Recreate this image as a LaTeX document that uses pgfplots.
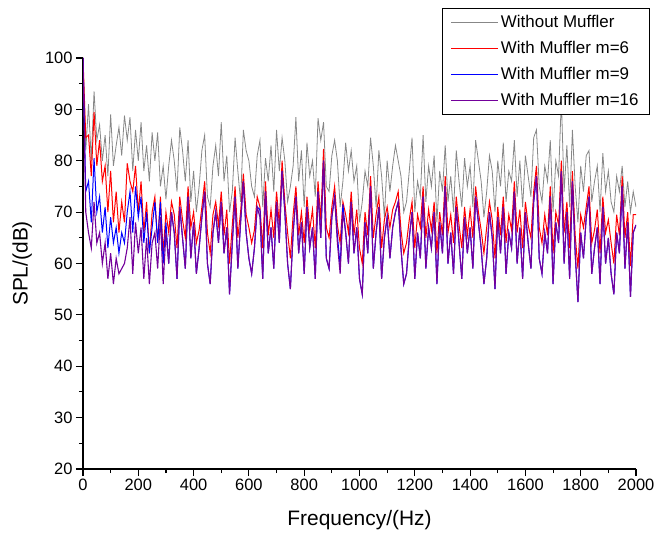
\documentclass[border=0pt]{standalone}
\usepackage{pgfplots}
\pgfplotsset{compat=1.18}
\usepackage{pgfplotstable}
\usepackage{fontspec}
\setmainfont{Liberation Sans}
\definecolor{mgray}{RGB}{135,135,135}
\definecolor{mred}{RGB}{255,0,0}
\definecolor{mblue}{RGB}{0,0,255}
\definecolor{mpurple}{RGB}{115,0,155}
\pgfplotstableread{
f g r b p
0 100 100 100 100
10 82 84.5 74 70
20 91 85 76 66
30 80 77 68 63
40 93.5 89.5 80.5 72
50 84 79 70 64
60 87 84 73 66
70 80 76 66 60
80 85 79 71 64
90 77 70 63 57
100 89 78 69 62
110 79 68 64 56
120 83 74 67 61
130 86.5 66 62 58
140 81 72 66 59
150 88.8 68 64 60
160 84 79.5 70 63
170 88.5 76 74 69
180 78 74 66 58
190 86 79 75 68
200 80 70 69 62
210 87.5 76 73 67
220 78 66 64 57
230 83 72 70 65
240 76 62 62 56
250 85.5 70 67 64
260 80 73 72 66
270 85.5 64 64 59
280 75 73 72 69
290 79 62 60 56
300 72.5 70 68 66
310 79 66 60 60
320 84 72 70 70
330 80 69.5 66 66
340 74 63 57 57
350 86.5 73 71 71
360 82 68.5 65 65
370 76 65 59 59
380 84 75 73 73
390 72 67 61 61
400 78 70 68 68
410 70 64 58 58
420 75 66.5 63 63
430 82 71 69 69
440 85 76 74 74
450 73 66 60 60
460 71 62 56 56
470 79 69.5 66 66
480 83 72 70 70
490 77 67.5 64 64
500 87.5 74 72 72
510 76 65.5 62 62
520 81 70.5 67 67
530 70 60 54 54
540 74 67.5 64 64
550 84.5 75 73 73
560 78 65 59 59
570 72 70 68 68
580 86 77.5 76 76
590 82 69.5 66 66
600 80 67 61 61
610 75 64 58 58
620 73 66.5 63 63
630 81 73 71 71
640 84 71 70.5 69
650 71 63 57 57
660 80.5 76 74 74
670 76 65.5 62 62
680 83 70.5 67 67
690 74 65 59 59
700 86 74 72 72
710 78 67.5 64 64
720 84.5 80 78 78
730 80 72 70 70
740 72 66 60 60
750 75 61 55 55
760 79 69.5 66 66
770 88.5 75 73 73
780 76 65.5 62 62
790 82 70 68 68
800 71 64 58 58
810 83.5 73 71 71
820 77 66.5 63 63
830 80 70.5 67 67
840 73 63 57 57
850 88.3 76 74 74
860 84 68.5 65 65
870 87.5 82.3 80 80
880 75 67 61 61
890 74 65 59 59
900 81 71 69 69
910 84 75 73 73
920 80 67.5 65.5 64
930 71 64 59.5 58
940 76 72 71.5 70
950 83.5 69.5 66 66
960 78 66 60 60
970 82 74 72 72
980 76 65.5 62 62
990 79 70.5 67 67
1000 68 63 57 57
1010 72 60 54 54
1020 78 70 68 68
1030 75 65.5 62 62
1040 84.5 77 75 75
1050 79 65 59 59
1060 71 69.5 66 66
1070 82 73 71 71
1080 77 63 57 57
1090 69 68.5 65 65
1100 80 71 69 69
1110 74 67 61 61
1120 79 70.5 67 67
1130 83 72 70 70
1140 80 74 72 72
1150 77 66.5 63 63
1160 70 62 56 56
1170 72 64 58 58
1180 78 68.5 65 65
1190 84.5 72 70 70
1200 70 63 57 57
1210 76 69.5 66 66
1220 73 67 61 61
1230 85 75 73 73
1240 72 65 59 59
1250 79 70.5 67 67
1260 75 66.5 63 63
1270 81 72 70 70
1280 68 62 56 56
1290 78 70 68 68
1300 74 65.5 62 62
1310 83 77 75 75
1320 72 66 60 60
1330 77 69.5 66 66
1340 70 64 58 58
1350 82 73 71 71
1360 76 67.5 64 64
1370 71 63 57 57
1380 80.5 71 69 69
1390 75 65.5 62 62
1400 79 70.5 67 67
1410 71 65 59 59
1420 84 75 73 73
1430 80 70 68 68
1440 76 66.5 63 63
1450 69 62 56 56
1460 74 67 61 61
1470 81 72 70 70
1480 78 68.5 65 65
1490 70 61 55 55
1500 80 71 69 69
1510 75 65.5 62 62
1520 83.5 73 71 71
1530 72 64 58 58
1540 78 69.5 66 66
1550 76 66.5 63 63
1560 84 76 74 74
1570 73 66 60 60
1580 80 70.5 67 67
1590 71 63 57 57
1600 81 72 70 70
1610 77 67.5 64 64
1620 73 65 59 59
1630 84.5 74 72 72
1640 86 79 77 77
1650 75 67 61 61
1660 72 64 58 58
1670 79 69.5 66 66
1680 76 65.5 62 62
1690 84 75 73 73
1700 70 62 56 56
1710 80 70 68 68
1720 77 67.5 64 64
1730 92 80 78 78
1740 74 66 60 60
1750 83 72 70 70
1760 71 63 57 57
1770 86 78 76 76
1780 75 65.5 62 62
1790 68 59 52.5 52.5
1800 79 69.5 66 66
1810 74 67 61 61
1820 81 71 69 69
1830 82 75 73 73
1840 72 64 58 58
1850 76 66.5 63 63
1860 79 70.5 67 67
1870 70 62 56 56
1880 81.5 73 71 71
1890 74 66 60 60
1900 78 68.5 65 65
1910 72 64 58 58
1920 70 60 54 54
1930 77 69.5 66 66
1940 74 65.5 62 62
1950 79 77 75 75
1960 71 65 59 59
1970 76 70 68 68
1980 70 59.5 53.5 53.5
1990 74 69.5 66 66
2000 71 69.5 67.5 67.5
}\data
\begin{document}
\begin{tikzpicture}
\path[use as bounding box] (0,0) rectangle (670bp,533bp);
\begin{axis}[
  at={(83bp,64bp)}, anchor=south west,
  width=553bp, height=411bp, scale only axis,
  xmin=0, xmax=2000, ymin=20, ymax=100,
  axis x line*=bottom, axis y line*=left,
  axis line style={line width=1.3bp},
  xtick={0,200,...,2000}, ytick={20,30,...,100},
  minor x tick num=1, minor y tick num=1,
  tick align=outside,
  major tick length=7bp, minor tick length=4bp,
  every tick/.style={black, line width=1.1bp},
  /pgf/number format/assume math mode=true,
  /pgf/number format/1000 sep={},
  tick label style={font=\fontsize{16.5}{19}\selectfont},
  xlabel={Frequency/(Hz)}, ylabel={SPL/(dB)},
  every axis x label/.style={at={(axis description cs:0.5,-0.124)}, anchor=center, font=\fontsize{21}{24}\selectfont},
  every axis y label/.style={at={(axis description cs:-0.110,0.5)}, rotate=90, anchor=center, font=\fontsize{21}{24}\selectfont},
  legend style={at={(1.0253,1.1217)}, anchor=north east, draw=black, line width=0.9bp, fill=white,
    font=\fontsize{17}{20}\selectfont, row sep=8.3bp, inner xsep=9bp, inner ysep=5bp,
    nodes={inner sep=2bp}},
  legend cell align=left,
  legend image code/.code={\draw[#1, line width=1bp] (0bp,0bp) -- (47bp,0bp);},
  clip=true,
]
\addplot[mgray, line width=0.8bp] table[x=f, y=g] {\data};
\addlegendentry{Without Muffler}
\addplot[mred, line width=1bp] table[x=f, y=r] {\data};
\addlegendentry{With Muffler m=6}
\addplot[mblue, line width=1bp] table[x=f, y=b] {\data};
\addlegendentry{With Muffler m=9}
\addplot[mpurple, line width=1.1bp] table[x=f, y=p] {\data};
\addlegendentry{With Muffler m=16}
\end{axis}
\end{tikzpicture}
\end{document}
